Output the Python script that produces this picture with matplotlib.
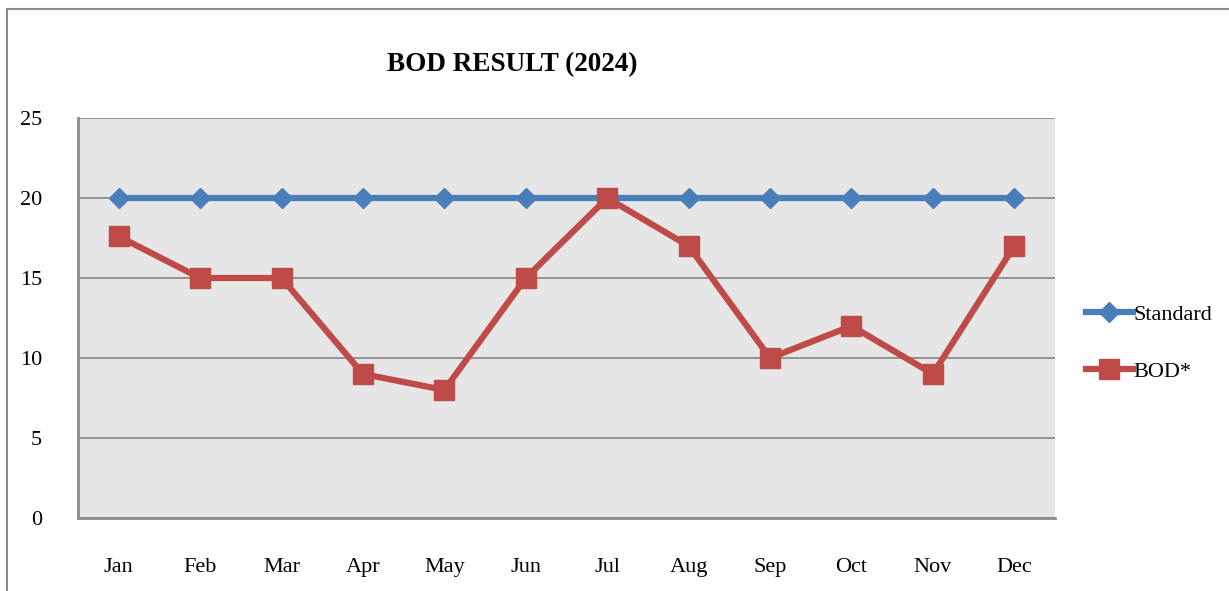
import matplotlib
matplotlib.use("Agg")
import matplotlib.pyplot as plt
from matplotlib.lines import Line2D

plt.rcParams['font.family'] = ['Liberation Serif', 'DejaVu Serif']

# --- Data ---
months = ["Jan", "Feb", "Mar", "Apr", "May", "Jun",
          "Jul", "Aug", "Sep", "Oct", "Nov", "Dec"]
standard = [20, 20, 20, 20, 20, 20, 20, 20, 20, 20, 20, 20]
bod = [17.6, 15, 15, 9, 8, 15, 20, 17, 10, 12, 9, 17]
yticks = [0, 5, 10, 15, 20, 25]

BLUE = '#4A7EBB'
RED = '#BE4B48'

fig = plt.figure(figsize=(12.29, 5.91), dpi=100)
ax = fig.add_axes([78/1229, 1 - 518/591, (1055 - 78)/1229, 400/591])
ax.set_facecolor('#E6E6E6')

x = list(range(len(months)))
ax.plot(x, standard, color=BLUE, lw=4.5, marker='D', ms=10,
        label='Standard', zorder=3)
ax.plot(x, bod, color=RED, lw=4.5, marker='s', ms=14,
        label='BOD*', zorder=4)

ax.set_xlim(-0.5, len(months) - 0.5)
ax.set_ylim(0, 25)
ax.set_yticks(yticks)
ax.set_xticks(x)
ax.set_xticklabels(months)
ax.tick_params(axis='both', length=0, labelsize=16)
ax.tick_params(axis='y', pad=26)
ax.tick_params(axis='x', pad=29)

ax.grid(True, axis='y', color='#8C8C8C', lw=1.3, zorder=0)
ax.set_axisbelow(True)
for side in ['top', 'right']:
    ax.spines[side].set_visible(False)
for side in ['left', 'bottom']:
    ax.spines[side].set_color('#8C8C8C')
    ax.spines[side].set_linewidth(2)

fig.text(512/1229, 1 - 65/591, 'BOD RESULT (2024)', fontsize=19.5,
         fontweight='bold', ha='center', va='center')

ax.legend(loc='center left', bbox_to_anchor=(1066/1229, 1 - 343/591),
          bbox_transform=fig.transFigure, frameon=False, fontsize=16,
          handlelength=2.1, handletextpad=0.05, labelspacing=1.65)

# outer chart border (cropped on right and bottom)
fig.add_artist(Line2D([7/1229, 7/1229], [0, 1 - 9/591], color='#8C8C8C',
                      lw=1.5, transform=fig.transFigure))
fig.add_artist(Line2D([7/1229, 1], [1 - 9/591, 1 - 9/591], color='#8C8C8C',
                      lw=1.5, transform=fig.transFigure))

fig.savefig('out.png', dpi=100)
